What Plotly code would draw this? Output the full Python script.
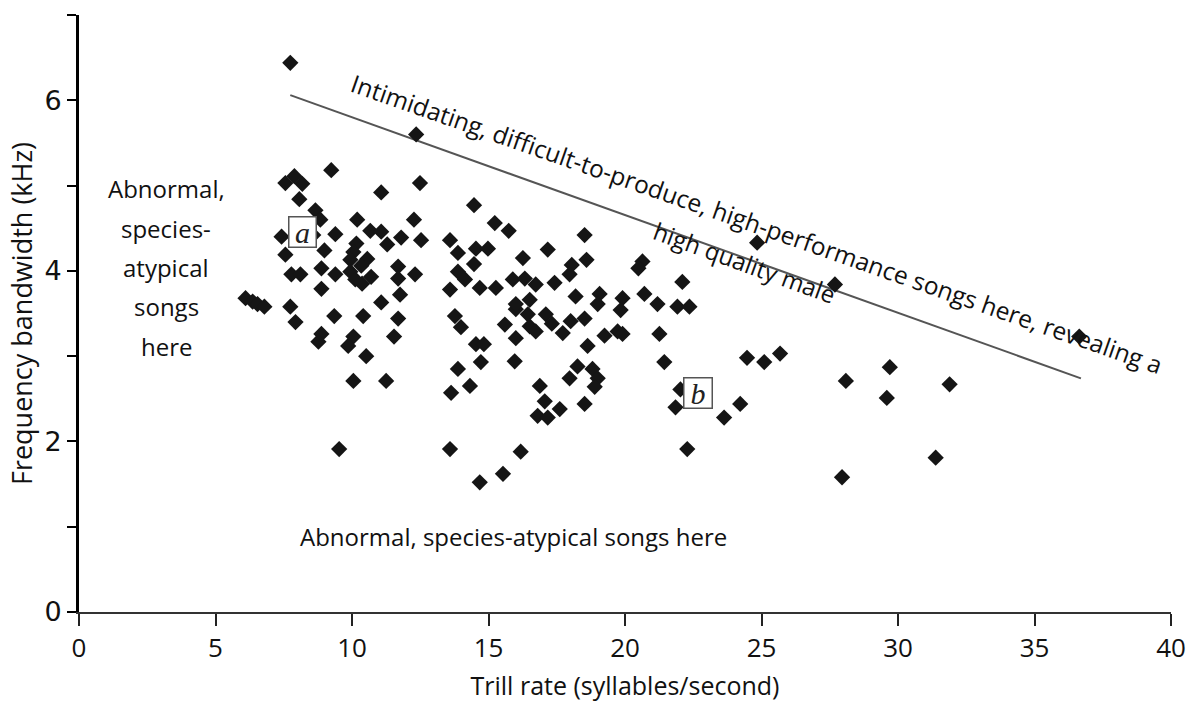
import plotly.graph_objects as go

# Song performance: trill rate vs frequency bandwidth
trill_rate = [
    7.74, 12.35, 7.56, 7.89, 8.18, 8.07, 9.24, 11.07, 12.49, 14.47,
    15.23, 15.74, 8.66, 8.84, 7.42, 8.58, 9.39, 10.19, 10.67, 11.07,
    11.29, 11.80, 12.27, 12.53, 13.59, 13.88, 14.54, 14.98, 14.47, 13.88,
    14.14, 14.68, 15.27, 13.59, 7.56, 8.99, 8.88, 7.78, 8.11, 9.39,
    8.88, 10.16, 10.05, 9.94, 10.56, 10.34, 9.94, 10.12, 10.37, 10.70,
    11.69, 11.69, 12.31, 11.76, 11.07, 10.41, 11.69, 11.54, 10.05, 9.86,
    10.52, 10.05, 11.25, 9.53, 6.10, 6.36, 6.54, 6.79, 7.74, 7.93,
    9.35, 8.88, 8.77, 13.63, 14.32, 13.88, 14.72, 14.54, 14.83, 13.77,
    13.99, 13.59, 14.68, 15.53, 16.18, 16.00, 16.44, 16.51, 16.73, 15.60,
    17.10, 17.32, 17.72, 18.01, 18.52, 19.25, 19.73, 19.91, 21.26, 16.00,
    18.63, 15.96, 16.88, 17.06, 16.80, 17.17, 17.61, 18.52, 18.26, 17.97,
    18.81, 19.00, 18.89, 21.44, 22.03, 21.85, 22.28, 23.63, 24.22, 24.47,
    25.10, 25.68, 28.09, 29.70, 29.59, 31.89, 31.38, 27.95, 36.64, 24.84,
    27.69, 22.10, 21.92, 22.36, 21.19, 20.64, 20.49, 18.52, 18.59, 18.05,
    17.97, 17.17, 16.26, 15.89, 16.33, 16.73, 17.42, 18.19, 19.07, 19.00,
    19.91, 19.84, 20.71, 16.00, 16.51,
]
bandwidth = [
    6.44, 5.60, 5.03, 5.11, 5.02, 4.84, 5.18, 4.92, 5.03, 4.77,
    4.56, 4.47, 4.71, 4.60, 4.40, 4.42, 4.43, 4.60, 4.47, 4.46,
    4.31, 4.39, 4.60, 4.36, 4.36, 4.21, 4.26, 4.26, 4.08, 3.99,
    3.90, 3.80, 3.80, 3.78, 4.19, 4.24, 4.03, 3.96, 3.96, 3.96,
    3.79, 4.32, 4.22, 4.13, 4.14, 4.06, 3.99, 3.90, 3.85, 3.93,
    4.05, 3.91, 3.96, 3.72, 3.63, 3.47, 3.44, 3.23, 3.23, 3.12,
    3.00, 2.71, 2.71, 1.91, 3.68, 3.64, 3.61, 3.58, 3.58, 3.40,
    3.47, 3.26, 3.17, 2.57, 2.65, 2.85, 2.93, 3.14, 3.14, 3.47,
    3.34, 1.91, 1.52, 1.62, 1.88, 3.55, 3.49, 3.35, 3.29, 3.37,
    3.49, 3.38, 3.27, 3.41, 3.44, 3.24, 3.29, 3.26, 3.26, 3.21,
    3.12, 2.94, 2.65, 2.47, 2.30, 2.28, 2.38, 2.44, 2.88, 2.74,
    2.85, 2.74, 2.64, 2.93, 2.61, 2.40, 1.91, 2.28, 2.44, 2.98,
    2.93, 3.03, 2.71, 2.87, 2.51, 2.67, 1.81, 1.58, 3.23, 4.33,
    3.84, 3.87, 3.58, 3.58, 3.61, 4.11, 4.03, 4.42, 4.13, 4.07,
    3.96, 4.25, 4.15, 3.90, 3.91, 3.84, 3.86, 3.70, 3.73, 3.61,
    3.68, 3.54, 3.73, 3.61, 3.66,
]

# Upper performance limit line
limit_x = [7.74, 36.7]
limit_y = [6.06, 2.74]

x_ticks = [0, 5, 10, 15, 20, 25, 30, 35, 40]
y_tickvals = [0, 1, 2, 3, 4, 5, 6, 7]
y_ticktext = ["0", "", "2", "", "4", "", "6", ""]

# Left-hand note, one line per entry
left_note_lines = ["Abnormal,", "species-", "atypical", "songs", "here"]
left_note_y = [4.97, 4.50, 4.04, 3.58, 3.11]

label_font = "Open Sans, Lato, sans-serif"
note_size = 24

fig = go.Figure()
fig.add_trace(go.Scatter(
    x=limit_x, y=limit_y, mode="lines",
    line=dict(color="#555555", width=2), hoverinfo="skip", showlegend=False,
))
fig.add_trace(go.Scatter(
    x=trill_rate, y=bandwidth, mode="markers",
    marker=dict(symbol="diamond", size=12.5, color="#151515", line=dict(width=0)),
    showlegend=False,
))

annotations = [
    dict(x=24.8, y=4.55,
         text="Intimidating, difficult-to-produce, high-performance songs here, revealing a",
         textangle=19.3, font=dict(size=24.5, color="#111111", family=label_font)),
    dict(x=24.4, y=4.1, text="high quality male", textangle=20,
         font=dict(size=note_size, color="#111111", family=label_font)),
    dict(x=15.9, y=0.88, text="Abnormal, species-atypical songs here",
         font=dict(size=note_size, color="#111111", family=label_font)),
    dict(x=8.2, y=4.46, text="<i>a</i>", bordercolor="#555555", borderwidth=1.5,
         borderpad=0, bgcolor="white", width=26, height=29,
         font=dict(size=30, color="#222222", family="Liberation Serif, serif")),
    dict(x=22.68, y=2.57, text="<i>b</i>", bordercolor="#555555", borderwidth=1.5,
         borderpad=0, bgcolor="white", width=27, height=29,
         font=dict(size=30, color="#222222", family="Liberation Serif, serif")),
]
for line, yv in zip(left_note_lines, left_note_y):
    annotations.append(dict(x=3.2, y=yv, text=line,
                            font=dict(size=note_size, color="#111111", family=label_font)))
for a in annotations:
    a.update(xref="x", yref="y", showarrow=False)

fig.update_layout(
    width=1198, height=710,
    margin=dict(l=79, r=23, t=15, b=98),
    paper_bgcolor="white", plot_bgcolor="white",
    annotations=annotations,
    xaxis=dict(
        range=[0, 40], tickvals=x_ticks, ticks="outside", ticklen=12,
        tickwidth=1.5, tickcolor="#222222", showline=True, linecolor="#333333",
        linewidth=1.5, showgrid=False, zeroline=False,
        tickfont=dict(size=26, family="Liberation Sans Narrow, Open Sans, sans-serif", color="#111111"),
        title=dict(text="Trill rate (syllables/second)", standoff=14,
                   font=dict(size=25, family=label_font, color="#111111")),
    ),
    yaxis=dict(
        range=[0, 7], tickvals=y_tickvals, ticktext=y_ticktext,
        ticks="outside", ticklen=9, tickwidth=2, tickcolor="#000000",
        showline=True, linecolor="#000000", linewidth=3,
        showgrid=False, zeroline=False,
        tickfont=dict(size=27, family="DejaVu Sans, sans-serif", color="#111111"),
        title=dict(text="Frequency bandwidth (kHz)", standoff=4,
                   font=dict(size=27, family=label_font, color="#111111")),
    ),
)

fig.write_html("out.html")
